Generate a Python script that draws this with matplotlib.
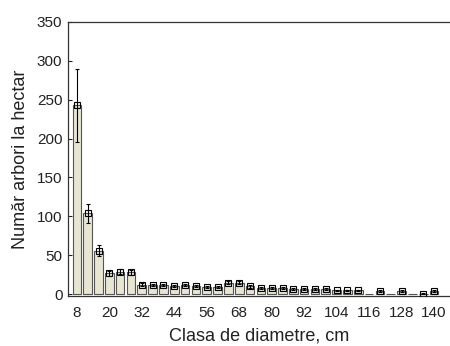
import matplotlib
matplotlib.use("Agg")
import matplotlib.pyplot as plt
import numpy as np

plt.rcParams['font.family'] = ['Liberation Sans', 'DejaVu Sans']

# diameter classes (cm) and trees per hectare
classes = list(range(8, 141, 4))
values = [243, 104, 56, 27, 29, 28, 12, 12, 12, 11, 12, 11, 9, 9, 15, 15, 10,
          8, 8, 8, 7, 7, 7, 7, 5, 5, 5, 0, 4, 0, 4, 0, 0.5, 4]
errors = [47, 12, 7, 3, 3, 3, 2, 1.5, 1.5, 1.5, 1.5, 1.5, 1.5, 1.5, 2, 2, 1.5,
          1.5, 1.5, 1.5, 1.5, 1.5, 1.5, 1.5, 1, 1, 1, 0, 1, 0, 1, 0, 0.5, 1]
xticks = list(range(8, 141, 12))

fig = plt.figure(figsize=(4.5, 3.46), dpi=100)
ax = fig.add_axes([0.151, 0.145, 0.849, 0.792])

ax.bar(classes, values, width=3.2, color='#e8e6d3', edgecolor='#555555',
       linewidth=0.8, zorder=2)

# markers and error bars only where a value exists
x_pts = [c for c, v in zip(classes, values) if v > 0]
y_pts = [v for v in values if v > 0]
e_pts = [e for v, e in zip(values, errors) if v > 0]
ax.errorbar(x_pts, y_pts, yerr=e_pts, fmt='s', mfc='none', mec='black',
            ms=4.5, mew=0.8, ecolor='black', elinewidth=0.8, capsize=1.5,
            capthick=0.8, zorder=3)

ax.set_xlim(4.7, 145.9)
ax.set_ylim(-2, 350)
ax.set_xticks(xticks)
ax.set_yticks(range(0, 351, 50))
ax.tick_params(axis='x', length=0, labelsize=11, pad=7, colors='#222222')
ax.tick_params(axis='y', direction='in', length=3, labelsize=11, pad=4,
               colors='#222222')

ax.spines['right'].set_visible(False)
for s in ['left', 'top', 'bottom']:
    ax.spines[s].set_linewidth(0.9)
    ax.spines[s].set_color('#333333')

ax.set_xlabel('Clasa de diametre, cm', fontsize=13, labelpad=6, color='#222222')
ax.set_ylabel('Număr arbori la hectar', fontsize=13, labelpad=6, color='#222222')

fig.savefig('out.png', dpi=100)
